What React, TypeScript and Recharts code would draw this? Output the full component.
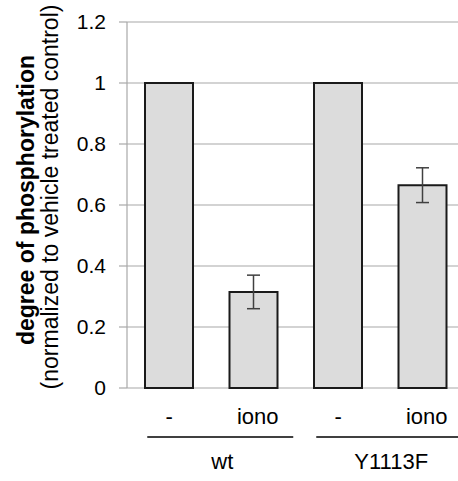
import { BarChart, Bar, XAxis, YAxis, CartesianGrid, ErrorBar } from 'recharts'

const treatments = ['-', 'iono', '-', 'iono']
const groups = ['wt', 'wt', 'Y1113F', 'Y1113F']
const values = [1, 0.315, 1, 0.665]
const errors = [null, 0.055, null, 0.057]
const yTicks = [0, 0.2, 0.4, 0.6, 0.8, 1, 1.2]

const data = treatments.map((t, i) => ({
  key: i,
  treatment: t,
  group: groups[i],
  value: values[i],
  err: errors[i],
}))

const font = '"Liberation Sans", Arial, sans-serif'

function TreatmentTick(props: any) {
  const { x, y, payload, index } = props
  const label = treatments[payload.value]
  const showGroup = index === 0 || groups[index - 1] !== groups[index]
  return (
    <g>
      <text
        x={x + (label === 'iono' ? 4 : 0)}
        y={y + 28}
        textAnchor="middle"
        dominantBaseline="central"
        fontSize={22}
        fontFamily={font}
        fill="#000"
      >
        {label}
      </text>
      {showGroup && (
        <g>
          <line x1={x - 22} x2={x + 124} y1={y + 49} y2={y + 49} stroke="#000" strokeWidth={1.5} />
          <text
            x={x + 53}
            y={y + 73}
            textAnchor="middle"
            dominantBaseline="central"
            fontSize={22}
            fontFamily={font}
            fill="#000"
          >
            {groups[index]}
          </text>
        </g>
      )}
    </g>
  )
}

function YTitle(props: any) {
  const vb = props.viewBox || { y: 22, height: 366 }
  const cy = vb.y + vb.height / 2 - 5
  return (
    <g fontFamily={font} fill="#000" fontSize={23}>
      <text
        x={26}
        y={cy}
        transform={`rotate(-90 26 ${cy})`}
        textAnchor="middle"
        dominantBaseline="central"
        fontWeight="bold"
      >
        degree of phosphorylation
      </text>
      <text
        x={50}
        y={cy - 3}
        transform={`rotate(-90 50 ${cy - 3})`}
        textAnchor="middle"
        dominantBaseline="central"
      >
        (normalized to vehicle treated control)
      </text>
    </g>
  )
}

export default function App() {
  return (
    <div
      style={{
        position: 'absolute',
        left: 0,
        top: 0,
        width: 458,
        height: 481,
        overflow: 'hidden',
        background: '#fff',
      }}
    >
      <BarChart width={470} height={481} data={data} margin={{ top: 22, right: 5, left: 0, bottom: 0 }}>
        <CartesianGrid vertical={false} stroke="#a8a8a8" strokeWidth={1.2} />
        <XAxis
          dataKey="key"
          height={93}
          axisLine={false}
          tickLine={false}
          tickSize={0}
          tickMargin={0}
          interval={0}
          tick={<TreatmentTick />}
        />
        <YAxis
          width={127}
          domain={[0, 1.2]}
          ticks={yTicks}
          interval={0}
          axisLine={{ stroke: '#a8a8a8', strokeWidth: 1.2 }}
          tickLine={{ stroke: '#a8a8a8', strokeWidth: 1.2 }}
          tickSize={8}
          tickMargin={13}
          tick={{ fontSize: 21, fontFamily: font, fill: '#000' }}
          label={YTitle}
        />
        <Bar dataKey="value" fill="#dcdcdc" stroke="#1a1a1a" strokeWidth={2} barSize={48} isAnimationActive={false}>
          <ErrorBar dataKey="err" width={6.5} stroke="#404040" strokeWidth={1.5} />
        </Bar>
      </BarChart>
    </div>
  )
}
